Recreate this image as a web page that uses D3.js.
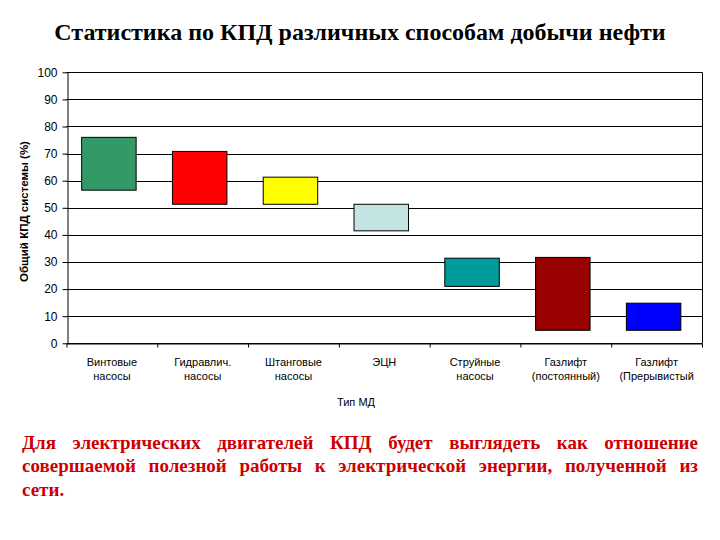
<!DOCTYPE html>
<html>
<head>
<meta charset="utf-8">
<script src="https://cdn.jsdelivr.net/npm/d3@7"></script>
<style>
  body { margin: 0; background: #fff; }
  svg { display: block; }
</style>
</head>
<body>
<div id="chart"></div>
<script>
// categories (two-line labels) and the ranges of each bar
const categories = ["Винтовые насосы", "Гидравлич. насосы", "Штанговые насосы", "ЭЦН",
    "Струйные насосы", "Газлифт (постоянный)", "Газлифт (Прерывистый"];
const labelLines = [["Винтовые", "насосы"], ["Гидравлич.", "насосы"], ["Штанговые", "насосы"], ["ЭЦН"],
    ["Струйные", "насосы"], ["Газлифт", "(постоянный)"], ["Газлифт", "(Прерывистый"]];
const lowValues = [56.5, 51.3, 51.3, 41.5, 21, 4.8, 4.8];
const highValues = [76, 70.8, 61.3, 51.3, 31.4, 31.7, 14.8];
const barColors = ["#339966", "#ff0000", "#ffff00", "#c4e4e4", "#009c9c", "#990000", "#0000ff"];
const yTicks = [0, 10, 20, 30, 40, 50, 60, 70, 80, 90, 100];

const title = "Статистика по КПД различных способам добычи нефти";
const yTitle = "Общий КПД системы (%)";
const xTitle = "Тип МД";
const noteLines = [
    "Для электрических двигателей КПД будет выглядеть как отношение",
    "совершаемой полезной работы к электрической энергии, полученной из",
    "сети."
];

const SERIF = "Liberation Serif";
const SANS = "Liberation Sans";

const width = 720, height = 540;
const plot = { left: 66.5, right: 702, top: 72.3, bottom: 343.3 };

const svg = d3.select("#chart").append("svg")
    .attr("width", width)
    .attr("height", height);

const x = d3.scaleBand()
    .domain(categories)
    .range([plot.left, plot.right])
    .paddingInner(0)
    .paddingOuter(0);

const y = d3.scaleLinear()
    .domain([0, 100])
    .range([plot.bottom, plot.top]);

// title
svg.append("text")
    .attr("x", 360)
    .attr("y", 39.5)
    .attr("text-anchor", "middle")
    .attr("font-family", SERIF)
    .attr("font-weight", "bold")
    .attr("font-size", 24)
    .text(title);

// gridlines
svg.append("g")
    .selectAll("line")
    .data(yTicks)
    .enter()
    .append("line")
    .attr("x1", plot.left)
    .attr("x2", plot.right)
    .attr("y1", d => Math.round(y(d)) + 0.5)
    .attr("y2", d => Math.round(y(d)) + 0.5)
    .attr("stroke", "#000")
    .attr("stroke-width", 1);

// right border of the plot area
svg.append("line")
    .attr("x1", plot.right + 0.5).attr("x2", plot.right + 0.5)
    .attr("y1", y(100)).attr("y2", y(0))
    .attr("stroke", "#000");

// bars (drawn a little left of the band centre, as in the original)
const barW = x.bandwidth() * 0.6;
svg.append("g")
    .selectAll("rect")
    .data(categories)
    .enter()
    .append("rect")
    .attr("x", d => x(d) + (x.bandwidth() - barW) / 2 - 3)
    .attr("width", barW)
    .attr("y", (d, i) => y(highValues[i]))
    .attr("height", (d, i) => y(lowValues[i]) - y(highValues[i]))
    .attr("fill", (d, i) => barColors[i])
    .attr("stroke", "#000")
    .attr("stroke-width", 1);

// y axis
const yAxis = svg.append("g")
    .attr("transform", "translate(" + (Math.round(plot.left) + 0.5) + ",0)")
    .call(d3.axisLeft(y).tickValues(yTicks).tickSize(5).tickPadding(5).tickSizeOuter(0));
yAxis.attr("font-family", SANS).attr("font-size", 12);
yAxis.select(".domain").attr("stroke", "#000");
yAxis.selectAll("text").attr("fill", "#000");

// x axis: ticks at category boundaries
const xEdge = d3.scaleLinear().domain([0, categories.length]).range([plot.left, plot.right]);
const xAxis = svg.append("g")
    .attr("transform", "translate(0," + (Math.round(plot.bottom) + 0.5) + ")")
    .call(d3.axisBottom(xEdge).tickValues(d3.range(categories.length + 1)).tickSize(4).tickFormat("").tickSizeOuter(0));
xAxis.select(".domain").attr("stroke", "#000");

// category labels
const labels = svg.append("g")
    .attr("font-family", SANS)
    .attr("font-size", 11)
    .selectAll("text")
    .data(categories)
    .enter()
    .append("text")
    .attr("x", d => x(d) + x.bandwidth() / 2)
    .attr("y", 366)
    .attr("text-anchor", "middle")
    .attr("fill", "#000");
labels.selectAll("tspan")
    .data((d, i) => labelLines[i])
    .enter()
    .append("tspan")
    .attr("x", function () { return this.parentNode.getAttribute("x"); })
    .attr("dy", (d, i) => i === 0 ? 0 : 14)
    .text(d => d);

// axis titles
svg.append("text")
    .attr("x", 356)
    .attr("y", 406)
    .attr("text-anchor", "middle")
    .attr("font-family", SANS)
    .attr("font-size", 11)
    .text(xTitle);

svg.append("text")
    .attr("transform", "translate(27.5,211.5) rotate(-90)")
    .attr("text-anchor", "middle")
    .attr("font-family", SANS)
    .attr("font-weight", "bold")
    .attr("font-size", 11.5)
    .text(yTitle);

// justified note paragraph
const noteLeft = 22, noteRight = 698;
noteLines.forEach((line, li) => {
    const t = svg.append("text")
        .attr("y", 449 + li * 23.3)
        .attr("font-family", SERIF)
        .attr("font-weight", "bold")
        .attr("font-size", 19)
        .attr("fill", "#cc0000");
    const words = line.split(" ");
    const last = li === noteLines.length - 1;
    const spans = words.map(w => t.append("tspan").text(w));
    const widths = spans.map(s => s.node().getComputedTextLength());
    const total = d3.sum(widths);
    const gap = (last || words.length < 2) ? 5 : (noteRight - noteLeft - total) / (words.length - 1);
    let cx = noteLeft;
    spans.forEach((s, i) => {
        s.attr("x", cx);
        cx += widths[i] + gap;
    });
});
</script>
</body>
</html>
